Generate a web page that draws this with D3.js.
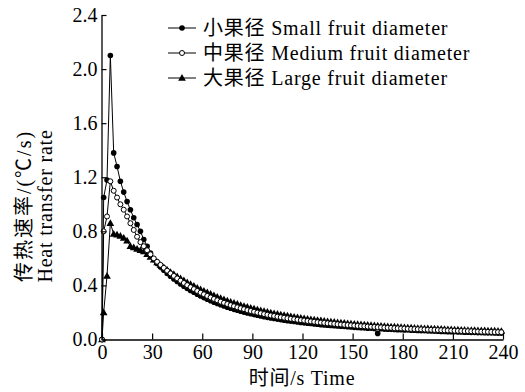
<!DOCTYPE html>
<html><head><meta charset="utf-8">
<script src="https://cdn.jsdelivr.net/npm/d3@7/dist/d3.min.js"></script>
<style>
html,body{margin:0;padding:0;background:#fff;}
svg{display:block;}
</style></head>
<body>
<svg id="c" width="525" height="392"></svg>
<script>
// ---- data ----
const time = [0,1,3,5,7,9,11,13,15,17,19,21,23,25,27,29,
 31,33,35,37,39,41,43,45,47,49,51,53,55,57,59,61,63,65,67,69,
 71,73,75,77,79,81,83,85,87,89,91,93,95,97,99,101,103,105,107,109,
 111,113,115,117,119,121,123,125,127,129,131,133,135,137,139,141,143,145,147,149,
 151,153,155,157,159,161,163,165,167,169,171,173,175,177,179,181,183,185,187,189,
 191,193,195,197,199,201,203,205,207,209,211,213,215,217,219,221,223,225,227,229,
 231,233,235,237,239];
const smallFruit = [0,1.05,1.18,2.10,1.38,1.28,1.17,1.09,1.02,0.96,0.90,0.85,0.80,0.74,0.69,0.64,
 0.59,0.562,0.536,0.512,0.489, 0.468,0.448,0.429,0.411,0.394, 0.378,0.363,0.349,0.335,0.322,
 0.310,0.298,0.287,0.276,0.266, 0.257,0.248,0.239,0.231,0.223, 0.216,0.209,0.202,0.196,0.190,
 0.184,0.179,0.174,0.169,0.164, 0.159,0.155,0.151,0.147,0.143, 0.139,0.136,0.133,0.129,0.126,
 0.123,0.121,0.118,0.115,0.113, 0.110,0.108,0.106,0.104,0.102, 0.100,0.098,0.096,0.094,0.092,
 0.090,0.089,0.087,0.086,0.084, 0.083,0.081,0.045,0.079,0.077, 0.076,0.075,0.074,0.073,0.072,
 0.071,0.070,0.069,0.068,0.067, 0.066,0.065,0.064,0.063,0.062, 0.061,0.060,0.059,0.058,0.058,
 0.057,0.056,0.055,0.054,0.054, 0.053,0.052,0.051,0.051,0.050, 0.049,0.049,0.048,0.047,0.047];
const mediumFruit = [0,0.80,0.91,1.17,1.10,1.05,1.00,0.96,0.91,0.86,0.81,0.76,0.72,0.69,0.66,0.63,
 0.600,0.575,0.552,0.530,0.509, 0.489,0.470,0.452,0.435,0.418, 0.402,0.387,0.373,0.359,0.346,
 0.334,0.322,0.311,0.300,0.290, 0.280,0.271,0.262,0.254,0.246, 0.238,0.231,0.224,0.217,0.211,
 0.205,0.199,0.194,0.188,0.183, 0.178,0.174,0.169,0.165,0.161, 0.157,0.153,0.150,0.146,0.143,
 0.140,0.137,0.134,0.131,0.128, 0.125,0.123,0.120,0.118,0.116, 0.113,0.111,0.109,0.107,0.105,
 0.103,0.101,0.099,0.098,0.096, 0.094,0.093,0.091,0.090,0.088, 0.087,0.086,0.084,0.083,0.082,
 0.081,0.079,0.078,0.077,0.076, 0.075,0.074,0.073,0.072,0.071, 0.070,0.069,0.068,0.067,0.066,
 0.065,0.064,0.063,0.062,0.062, 0.061,0.060,0.059,0.058,0.058, 0.057,0.056,0.055,0.055,0.054];
const largeFruit = [0,0.20,0.47,0.86,0.78,0.775,0.765,0.75,0.73,0.69,0.68,0.67,0.66,0.65,0.63,0.61,
 0.59,0.57,0.55,0.532,0.515, 0.498,0.482,0.466,0.451,0.436, 0.422,0.408,0.395,0.382,0.370,
 0.358,0.347,0.336,0.325,0.315, 0.305,0.296,0.287,0.278,0.270, 0.262,0.254,0.247,0.240,0.233,
 0.227,0.221,0.215,0.209,0.204, 0.198,0.193,0.188,0.184,0.179, 0.175,0.171,0.167,0.163,0.159,
 0.156,0.152,0.149,0.146,0.143, 0.140,0.137,0.134,0.131,0.129, 0.126,0.124,0.122,0.119,0.117,
 0.115,0.113,0.111,0.109,0.107, 0.105,0.103,0.102,0.100,0.098, 0.097,0.095,0.094,0.092,0.091,
 0.089,0.088,0.087,0.085,0.084, 0.083,0.082,0.081,0.080,0.079, 0.078,0.077,0.076,0.075,0.074,
 0.073,0.072,0.071,0.070,0.069, 0.069,0.068,0.067,0.066,0.066, 0.065,0.064,0.064,0.063,0.062];
const xTicks = [0,30,60,90,120,150,180,210,240];
const yTicks = [0,0.4,0.8,1.2,1.6,2.0,2.4];
const seriesLabels = ["小果径 Small fruit diameter","中果径 Medium fruit diameter","大果径 Large fruit diameter"];
const xTitle = "时间/s Time";
const yTitle1 = "传热速率/(℃/s)";
const yTitle2 = "Heat transfer rate";

// ---- chart ----
const FONT = '"Liberation Serif","Times New Roman","Noto Sans CJK SC",serif';
const svg = d3.select("#c");
const x = d3.scaleLinear().domain([0,240]).range([102,503]);
const y = d3.scaleLinear().domain([0,2.4]).range([339.5,15]);
const FS = 20;

const series = [
  {vals:largeFruit, marker:"tri"},
  {vals:smallFruit, marker:"dot"},
  {vals:mediumFruit, marker:"ring"}
];

function drawMarker(g, kind, cx, cy){
  if(kind==="dot"){
    g.append("circle").attr("cx",cx).attr("cy",cy).attr("r",2.8).attr("fill","#000");
  } else if(kind==="ring"){
    g.append("circle").attr("cx",cx).attr("cy",cy).attr("r",2.5).attr("fill","#fff").attr("stroke","#000").attr("stroke-width",1);
  } else {
    g.append("path").attr("d",d3.symbol(d3.symbolTriangle,26)()).attr("transform",`translate(${cx},${cy+0.5})`).attr("fill","#000");
  }
}

const line = d3.line().x(d=>x(d[0])).y(d=>y(d[1]));
const plot = svg.append("g");
series.forEach(s=>{
  const pts = time.map((t,i)=>[t,s.vals[i]]);
  plot.append("path").attr("d",line(pts)).attr("fill","none").attr("stroke","#000").attr("stroke-width",1);
});
series.forEach(s=>{
  const g = plot.append("g");
  time.forEach((t,i)=>drawMarker(g,s.marker,x(t),y(s.vals[i])));
});

// axes
const xAxis = svg.append("g").attr("transform","translate(0,339.5)")
  .call(d3.axisBottom(x).tickValues(xTicks).tickSizeInner(-6).tickSizeOuter(0).tickPadding(5).tickFormat(d3.format("d")));
const yAxis = svg.append("g").attr("transform","translate(101.5,0)")
  .call(d3.axisLeft(y).tickValues(yTicks).tickSizeInner(-5).tickSizeOuter(0).tickPadding(4).tickFormat(d3.format(".1f")));
[xAxis,yAxis].forEach(a=>{
  a.attr("font-family",null).attr("font-size",null);
  a.selectAll("path.domain").attr("stroke","#000").attr("stroke-width",1.3);
  a.selectAll(".tick line").attr("stroke","#000").attr("stroke-width",1.2);
  a.selectAll("text").style("font-family",FONT).style("font-size",FS+"px").attr("fill","#000");
});

function label(t, txt, ls){
  return t.style("font-family",FONT).style("font-size",FS+"px").style("letter-spacing",ls).attr("fill","#000").text(txt);
}

// axis titles
label(svg.append("text").attr("x",302).attr("y",385).attr("text-anchor","middle"), xTitle, "0.8px");
label(svg.append("text").attr("transform","translate(31,206) rotate(-90)").attr("text-anchor","middle"), yTitle1, "2px");
label(svg.append("text").attr("transform","translate(52,206) rotate(-90)").attr("text-anchor","middle"), yTitle2, "0.8px");

// legend
const legendMarkers = ["dot","ring","tri"];
legendMarkers.forEach((m,i)=>{
  const cy = 28 + i*25;
  const g = svg.append("g");
  g.append("line").attr("x1",168).attr("x2",196).attr("y1",cy).attr("y2",cy).attr("stroke","#000").attr("stroke-width",1);
  drawMarker(g,m,182,cy);
  label(g.append("text").attr("x",203).attr("y",cy+7), seriesLabels[i], "0.8px");
});
</script>
</body></html>
